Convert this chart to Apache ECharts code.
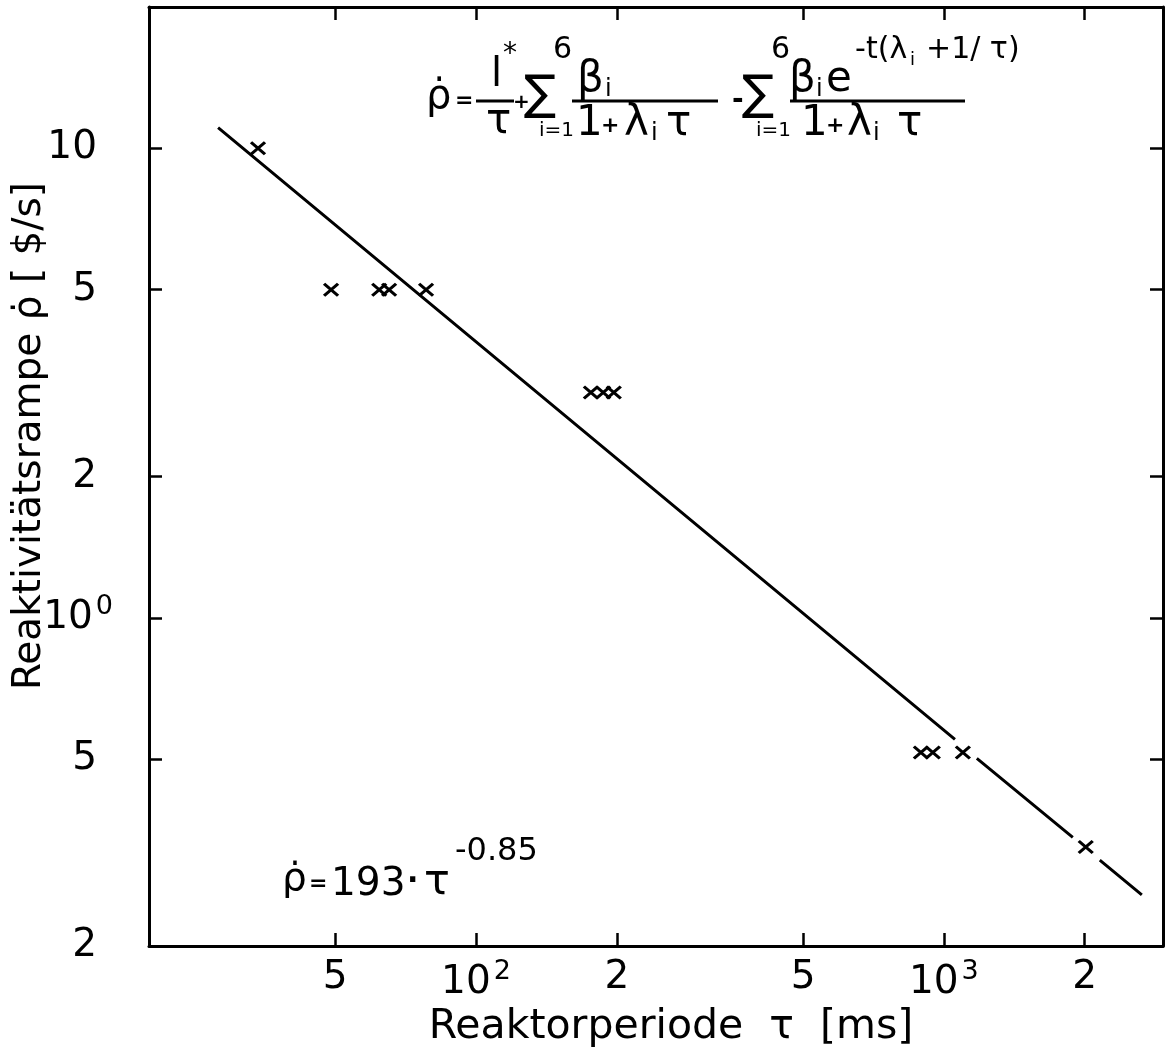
<!DOCTYPE html>
<html><head><meta charset="utf-8">
<script src="https://cdn.jsdelivr.net/npm/echarts@6/dist/echarts.min.js"></script>
<style>html,body{margin:0;padding:0;background:#fff}#c{width:1166px;height:1053px}</style>
</head><body><div id="c"></div>
<script>
// measured points: reactor period tau [ms] vs reactivity ramp [$/s]
const tauMs  = [34.2, 49.0, 62.1, 65.2, 78.2, 176, 187, 197, 893, 947, 1098, 2010];
const rhoDot = [10, 5, 5, 5, 5, 3.02, 3.02, 3.02, 0.517, 0.517, 0.517, 0.325];
// fitted line (drawn with gaps near markers); null = break
const fitTau = [28.1, 1056, null, 1176, 1886, null, 2154, 2649];
const fitRho = [11.07, 0.551, null, 0.502, 0.341, null, 0.305, 0.257];
// ticks and labels
const xTicks = [50, 100, 200, 500, 1000, 2000];
const xTickLabels = ['5', '10^2', '2', '5', '10^3', '2'];
const yTicks = [0.2, 0.5, 1, 2, 5, 10];
const yTickLabels = ['2', '5', '10^0', '2', '5', '10'];

const FONT = 'DejaVu Sans';
function fmtFactory(ticks, labels, trail) {
  return function (v) {
    for (let i = 0; i < ticks.length; i++) {
      if (Math.abs(Math.log10(v) - Math.log10(ticks[i])) < 1e-4) {
        const s = labels[i];
        if (s.indexOf('^') >= 0) { const p = s.split('^'); return '{a|' + p[0] + '}{s|' + p[1] + '}'; }
        return '{a|' + s + '}' + (trail ? '{p|}' : '');
      }
    }
    return '';
  };
}
const richLab = {
  a: { fontFamily: FONT, fontSize: 39, color: '#000' },
  s: { fontFamily: FONT, fontSize: 27, color: '#000', verticalAlign: 'top', padding: [0, 0, 22, 3] },
  p: { width: 16 }
};

const fitData = [];
for (let i = 0; i < fitTau.length; i++) {
  fitData.push(fitTau[i] == null ? ['-', '-'] : [fitTau[i], fitRho[i]]);
}
const ptData = tauMs.map((t, i) => [t, rhoDot[i]]);

function T(x, y, text, size, extra) {
  return { type: 'text', x: x, y: y, silent: true,
    style: Object.assign({ text: text, fontFamily: FONT, fontSize: size, fill: '#000',
      textAlign: 'left', textVerticalAlign: 'middle' }, extra || {}) };
}
function L(x1, x2, y) {
  return { type: 'line', silent: true, shape: { x1: x1, y1: y, x2: x2, y2: y }, style: { stroke: '#000', lineWidth: 3 } };
}
const B = { fontWeight: 'bold' };

const graphics = [
  // y axis title
  { type: 'text', x: 30, y: 436, rotation: Math.PI / 2, silent: true,
    style: { text: 'Reaktivitätsrampe ρ̇ [ $/s]', fontFamily: FONT, fontSize: 39, fill: '#000', textAlign: 'center', textVerticalAlign: 'middle' } },
  // big formula
  T(426, 98, 'ρ̇', 40),
  T(455, 101, '=', 22, B),
  T(491, 76, 'l', 40),
  T(503, 55, '*', 28),
  L(476, 514, 101),
  T(486, 122, 'τ', 42),
  T(513, 103, '+', 20, B),
  T(524, 97, '∑', 48),
  T(553, 50, '6', 30),
  T(539, 131, 'i=1', 20),
  T(577, 80, 'β', 42),
  T(605, 90, 'i', 24),
  L(572, 718, 101),
  T(576, 124, '1', 42),
  T(601, 126, '+', 22, B),
  T(624, 124, 'λ', 42),
  T(651, 134, 'i', 24),
  T(666, 124, 'τ', 42),
  T(732, 101, '-', 28, B),
  T(742, 97, '∑', 48),
  T(771, 50, '6', 30),
  T(756, 131, 'i=1', 20),
  T(789, 80, 'β', 42),
  T(816, 90, 'i', 24),
  T(826, 80, 'e', 42),
  T(855, 50, '-', 30),
  T(866, 50, 't(λ', 30),
  T(910, 60, 'i', 18),
  T(926, 50, '+1/ τ)', 30),
  L(790, 965, 101),
  T(801, 124, '1', 42),
  T(826, 126, '+', 22, B),
  T(847, 124, 'λ', 42),
  T(873, 134, 'i', 24),
  T(897, 124, 'τ', 42),
  // fit formula
  T(282, 880, 'ρ̇', 39),
  T(309, 884, '=', 22, B),
  T(331, 885, '193', 39),
  T(407, 882, '·', 30, B),
  T(424, 883, 'τ', 43),
  T(455, 852, '-0.85', 32)
];

const chart = echarts.init(document.getElementById('c'), null, { renderer: 'canvas' });
const axisLine = { show: true, onZero: false, lineStyle: { color: '#000', width: 3 } };
const tickStyle = { color: '#000', width: 2.5 };
chart.setOption({
  backgroundColor: '#fff',
  animation: false,
  grid: { left: 149, right: 3, top: 7, bottom: 96 },
  xAxis: [
    { type: 'log', logBase: 10, min: 20, max: 2940, position: 'bottom',
      axisLine: axisLine, splitLine: { show: false }, minorTick: { show: false },
      axisTick: { show: true, inside: true, length: 13, lineStyle: tickStyle, customValues: xTicks },
      axisLabel: { show: true, customValues: xTicks, formatter: fmtFactory(xTicks, xTickLabels, false), margin: 12, rich: richLab },
      name: 'Reaktorperiode  τ  [ms]', nameLocation: 'middle', nameGap: 50,
      nameTextStyle: { fontFamily: FONT, fontSize: 41, color: '#000', padding: [0, 0, 0, 30] } },
    { type: 'log', logBase: 10, min: 20, max: 2940, position: 'top',
      axisLine: axisLine, splitLine: { show: false }, minorTick: { show: false },
      axisTick: { show: true, inside: true, length: 13, lineStyle: tickStyle, customValues: xTicks },
      axisLabel: { show: false } }
  ],
  yAxis: [
    { type: 'log', logBase: 10, min: 0.2, max: 20, position: 'left',
      axisLine: axisLine, splitLine: { show: false }, minorTick: { show: false },
      axisTick: { show: true, inside: true, length: 13, lineStyle: tickStyle, customValues: yTicks },
      axisLabel: { show: true, customValues: yTicks, formatter: fmtFactory(yTicks, yTickLabels, true), margin: 36, align: 'right', rich: richLab } },
    { type: 'log', logBase: 10, min: 0.2, max: 20, position: 'right',
      axisLine: axisLine, splitLine: { show: false }, minorTick: { show: false },
      axisTick: { show: true, inside: true, length: 13, lineStyle: tickStyle, customValues: [0.5, 1, 2, 5, 10] },
      axisLabel: { show: false } }
  ],
  series: [
    { type: 'line', name: 'fit', data: fitData, xAxisIndex: 0, yAxisIndex: 0, showSymbol: false, connectNulls: false,
      lineStyle: { color: '#000', width: 3 }, silent: true },
    { type: 'scatter', name: 'data', data: ptData, xAxisIndex: 0, yAxisIndex: 0,
      symbol: 'path://M0,0L14,12M14,0L0,12', symbolSize: [14, 12], symbolKeepAspect: false,
      itemStyle: { color: 'rgba(0,0,0,0)', borderColor: '#000', borderWidth: 3, opacity: 1 } }
  ],
  graphic: graphics
});
</script>
</body></html>
